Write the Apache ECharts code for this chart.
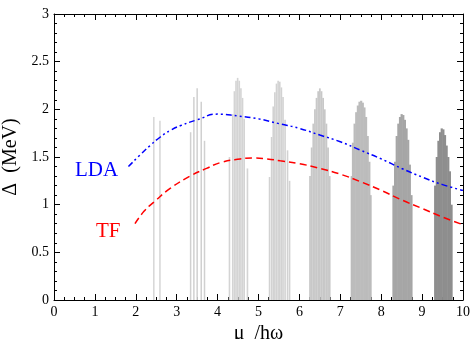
<!DOCTYPE html>
<html><head><meta charset="utf-8">
<script src="https://cdn.jsdelivr.net/npm/echarts@6/dist/echarts.min.js"></script>
<style>html,body{margin:0;padding:0;background:#fff}#c{width:473px;height:339px}</style>
</head><body><div id="c"></div>
<script>
// ---- data ----
const ldaCurve = [[1.82,1.40],[2.1,1.52],[2.35,1.62],[2.6,1.71],[2.85,1.78],[3.1,1.83],[3.5,1.89],[4.0,1.95],[4.5,1.93],[5.0,1.90],[5.5,1.85],[6.0,1.80],[6.5,1.73],[7.0,1.66],[7.5,1.57],[8.0,1.48],[8.5,1.38],[9.0,1.29],[9.5,1.21],[10,1.15]];
const tfCurve = [[1.98,0.80],[2.2,0.93],[2.45,1.03],[2.84,1.17],[3.33,1.30],[3.73,1.38],[4.06,1.44],[4.55,1.48],[4.87,1.49],[5.2,1.48],[5.53,1.46],[6.0,1.43],[6.5,1.38],[7.0,1.32],[7.5,1.24],[8.0,1.15],[8.5,1.05],[9.0,0.96],[9.5,0.87],[10,0.79]];
const shell25 = [[2.44,1.92],[2.59,1.88]];
const shell35 = [[3.34,1.76],[3.42,2.13],[3.50,2.22],[3.60,2.08],[3.68,1.67]];
const shell45 = [[4.29,1.50],[4.37,1.95],[4.41,2.19],[4.45,2.30],[4.49,2.33],[4.53,2.30],[4.57,2.22],[4.61,2.12],[4.65,1.90],[4.73,1.38]];
const shell55 = [[5.27,1.29],[5.32,1.71],[5.36,2.03],[5.40,2.18],[5.44,2.27],[5.48,2.30],[5.52,2.29],[5.56,2.23],[5.60,2.13],[5.65,1.89],[5.71,1.57],[5.76,1.25]];
const shell65 = [[6.26,1.30],[6.30,1.60],[6.34,1.85],[6.38,2.00],[6.42,2.12],[6.46,2.19],[6.50,2.22],[6.54,2.19],[6.58,2.12],[6.62,2.00],[6.66,1.85],[6.70,1.60],[6.74,1.30]];
const shell75 = [[7.28,1.30],[7.31,1.65],[7.35,1.85],[7.39,1.97],[7.43,2.04],[7.47,2.08],[7.51,2.09],[7.55,2.07],[7.59,2.02],[7.63,1.92],[7.67,1.72],[7.71,1.45],[7.74,1.10]];
const shell85 = [[8.30,1.20],[8.34,1.45],[8.38,1.72],[8.42,1.85],[8.46,1.92],[8.50,1.95],[8.54,1.94],[8.58,1.89],[8.62,1.80],[8.66,1.68],[8.70,1.42],[8.74,1.10]];
const shell95 = [[9.32,1.20],[9.36,1.50],[9.40,1.67],[9.44,1.76],[9.48,1.80],[9.52,1.79],[9.56,1.73],[9.60,1.62],[9.64,1.50],[9.68,1.35],[9.72,1.00]];
const shells = [shell25, shell35, shell45, shell55, shell65, shell75, shell85, shell95];
const shellColors = ['#d8d8d8','#d0d0d0','#d4d4d4','#d2d2d2','#c8c8c8','#bcbcbc','#a6a6a6','#8e8e8e'];
const shellBarWidths = [1.6, 1.5, 1.6, 1.6, 1.8, 2.2, 2.2, 2.2];
const yTickLabels = ['0','0.5','1','1.5','2','2.5','3'];

// ---- chart ----
const serif = 'Liberation Serif';
const chart = echarts.init(document.getElementById('c'), null, {renderer:'canvas'});
function barRenderer(color, w) {
  return function(params, api) {
    const x = api.value(0), h = api.value(1);
    const p0 = api.coord([x, 0]), p1 = api.coord([x, h]);
    return {type:'rect', shape:{x:p0[0]-w/2, y:p1[1], width:w, height:p0[1]-p1[1]}, style:{fill:color}};
  };
}
const series = shells.map((d, i) => ({
  type:'custom', data:d, renderItem: barRenderer(shellColors[i], shellBarWidths[i]), silent:true, z:1
}));
series.push({type:'line', data:ldaCurve, smooth:true, symbol:'none', z:3,
  lineStyle:{color:'#0000ff', width:1.5, type:[6,3,2,3,2,3]}});
series.push({type:'line', data:tfCurve, smooth:true, symbol:'none', z:3,
  lineStyle:{color:'#ff0000', width:1.5, type:[7,4]}});

const axisCommon = {
  axisLine:{show:true, onZero:false, lineStyle:{color:'#000', width:1}},
  splitLine:{show:false},
};
chart.setOption({
  animation:false,
  backgroundColor:'#fff',
  grid:{left:54, right:10, top:14, bottom:39, containLabel:false, outerBoundsMode:'none'},
  xAxis:[
    Object.assign({type:'value', min:0, max:10, interval:1, position:'bottom',
      axisTick:{show:true, inside:true, length:6, lineStyle:{color:'#000'}},
      minorTick:{show:true, splitNumber:4, length:3, lineStyle:{color:'#000'}},
      axisLabel:{fontFamily:serif, fontSize:14, color:'#000', margin:5},
      name:'μ  /hω', nameLocation:'middle', nameGap:21,
      nameTextStyle:{fontFamily:serif, fontSize:20, color:'#000'}}, axisCommon),
    Object.assign({type:'value', min:0, max:10, interval:1, position:'top',
      axisTick:{show:true, inside:true, length:6, lineStyle:{color:'#000'}},
      minorTick:{show:true, splitNumber:4, length:3, lineStyle:{color:'#000'}},
      axisLabel:{show:false}}, axisCommon)
  ],
  yAxis:[
    Object.assign({type:'value', min:0, max:3, interval:0.5, position:'left',
      axisTick:{show:true, inside:true, length:6, lineStyle:{color:'#000'}},
      minorTick:{show:true, splitNumber:5, length:3, lineStyle:{color:'#000'}},
      axisLabel:{fontFamily:serif, fontSize:14, color:'#000', margin:5,
        formatter:(v)=>{const i=Math.round(v/0.5); return yTickLabels[i]!==undefined?yTickLabels[i]:'';}},
      name:'Δ  (MeV)', nameLocation:'middle', nameGap:30, nameRotate:90,
      nameTextStyle:{fontFamily:serif, fontSize:20, color:'#000'}}, axisCommon),
    Object.assign({type:'value', min:0, max:3, interval:0.5, position:'right',
      axisTick:{show:true, inside:true, length:6, lineStyle:{color:'#000'}},
      minorTick:{show:true, splitNumber:5, length:3, lineStyle:{color:'#000'}},
      axisLabel:{show:false}}, axisCommon)
  ],
  graphic:[
    {type:'text', left:75, top:160, style:{text:'LDA', fill:'#0000ff', font:'21px "Liberation Serif"'}},
    {type:'text', left:96, top:221, style:{text:'TF', fill:'#ff0000', font:'21px "Liberation Serif"'}}
  ],
  series: series
});
</script>
</body></html>
